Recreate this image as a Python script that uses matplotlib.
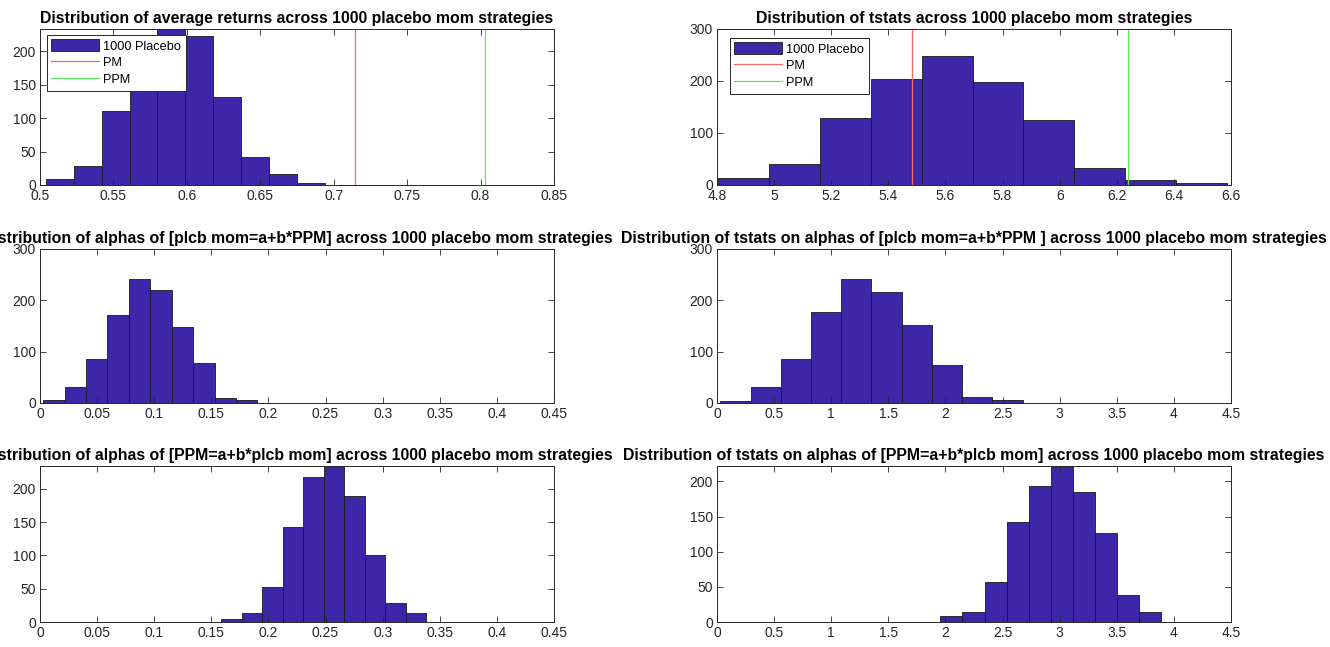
import numpy as np
import matplotlib
matplotlib.use("Agg")
import matplotlib.pyplot as plt
from matplotlib.ticker import FuncFormatter

plt.rcParams['font.family'] = ['Liberation Sans', 'DejaVu Sans']

# --- data ----------------------------------------------------------------
# average returns
ret_start, ret_width = 0.504, 0.019
ret_counts = [9, 28, 111, 203, 233, 222, 132, 42, 17, 3]
ret_pm, ret_ppm = 0.7145, 0.8032

# tstats
t_start, t_width = 4.805, 0.178
t_counts = [13, 40, 129, 203, 248, 198, 125, 32, 9, 3]
t_pm, t_ppm = 5.484, 6.238

# alphas of [plcb mom=a+b*PPM]
a1_start, a1_width = 0.0028, 0.01876
a1_counts = [5, 32, 86, 172, 242, 221, 149, 77, 10, 6]

# tstats on alphas of [plcb mom=a+b*PPM]
ta1_start, ta1_width = 0.03, 0.2645
ta1_counts = [4, 32, 86, 177, 241, 216, 151, 75, 12, 6]

# alphas of [PPM=a+b*plcb mom]
a2_start, a2_width = 0.1588, 0.01794
a2_counts = [5, 14, 53, 143, 218, 234, 189, 101, 29, 14]

# tstats on alphas of [PPM=a+b*plcb mom]
ta2_start, ta2_width = 1.956, 0.193
ta2_counts = [8, 14, 57, 143, 193, 222, 185, 126, 38, 14]

titles = [
    "Distribution of average returns across 1000 placebo mom strategies",
    "Distribution of tstats across 1000 placebo mom strategies",
    "Distribution of alphas of [plcb mom=a+b*PPM] across 1000 placebo mom strategies",
    "Distribution of tstats on alphas of [plcb mom=a+b*PPM ] across 1000 placebo mom strategies",
    "Distribution of alphas of [PPM=a+b*plcb mom] across 1000 placebo mom strategies",
    "Distribution of tstats on alphas of [PPM=a+b*plcb mom] across 1000 placebo mom strategies",
]

BAR = "#3E26A8"
TXT = "#262626"

fig = plt.figure(figsize=(13.3, 6.47), dpi=100)

col_left = [40 / 1330, 717 / 1330]
col_w = 514 / 1330
rows = [(1 - 185 / 647, 156 / 647), (1 - 403 / 647, 154 / 647), (1 - 622 / 647, 156 / 647)]

# legend anchors (axes fraction) for the two panels that carry PM / PPM lines
leg_anchor = {0: (7 / 514, 1 - 6 / 156), 1: (13 / 514, 1 - 9 / 156)}

panels = [
    (ret_start, ret_width, ret_counts, (0.5, 0.85), np.arange(0.5, 0.851, 0.05), (0, 233), np.arange(0, 201, 50), (ret_pm, ret_ppm)),
    (t_start, t_width, t_counts, (4.8, 6.6), np.arange(4.8, 6.61, 0.2), (0, 300), np.arange(0, 301, 100), (t_pm, t_ppm)),
    (a1_start, a1_width, a1_counts, (0, 0.45), np.arange(0, 0.451, 0.05), (0, 300), np.arange(0, 301, 100), None),
    (ta1_start, ta1_width, ta1_counts, (0, 4.5), np.arange(0, 4.51, 0.5), (0, 300), np.arange(0, 301, 100), None),
    (a2_start, a2_width, a2_counts, (0, 0.45), np.arange(0, 0.451, 0.05), (0, 234), np.arange(0, 201, 50), None),
    (ta2_start, ta2_width, ta2_counts, (0, 4.5), np.arange(0, 4.51, 0.5), (0, 222), np.arange(0, 201, 50), None),
]

fmt = FuncFormatter(lambda v, p: f"{round(v, 4):g}")

for i, (start, width, counts, xl, xt, yl, yt, lines) in enumerate(panels):
    r, c = divmod(i, 2)
    ax = fig.add_axes([col_left[c], rows[r][0], col_w, rows[r][1]])
    edges = start + width * np.arange(len(counts) + 1)
    ax.hist(edges[:-1], bins=edges, weights=counts, color=BAR,
            edgecolor="#1a1a1a", linewidth=0.6, label="1000 Placebo")
    if lines is not None:
        ax.axvline(lines[0], color="#f06a6a", linewidth=0.9, label="PM")
        ax.axvline(lines[1], color="#5fe05f", linewidth=0.9, label="PPM")
        leg = ax.legend(loc="upper left", bbox_to_anchor=leg_anchor[i],
                        fontsize=9.2, handlelength=3.7, handleheight=1.0,
                        fancybox=False, framealpha=1, edgecolor="#262626",
                        borderpad=0.35, labelspacing=0.3, handletextpad=0.35,
                        borderaxespad=0)
        leg.get_frame().set_linewidth(0.7)
    ax.set_xlim(*xl)
    ax.set_ylim(*yl)
    ax.set_xticks(xt)
    ax.set_yticks(yt)
    ax.xaxis.set_major_formatter(fmt)
    ax.yaxis.set_major_formatter(fmt)
    ax.tick_params(direction="in", top=True, right=True, length=4,
                   width=0.6, labelsize=10, colors=TXT, pad=3)
    for s in ax.spines.values():
        s.set_color(TXT)
        s.set_linewidth(0.7)
    ax.set_title(titles[i], fontsize=11.4, fontweight="bold", pad=4)

fig.savefig("out.png", dpi=100)
